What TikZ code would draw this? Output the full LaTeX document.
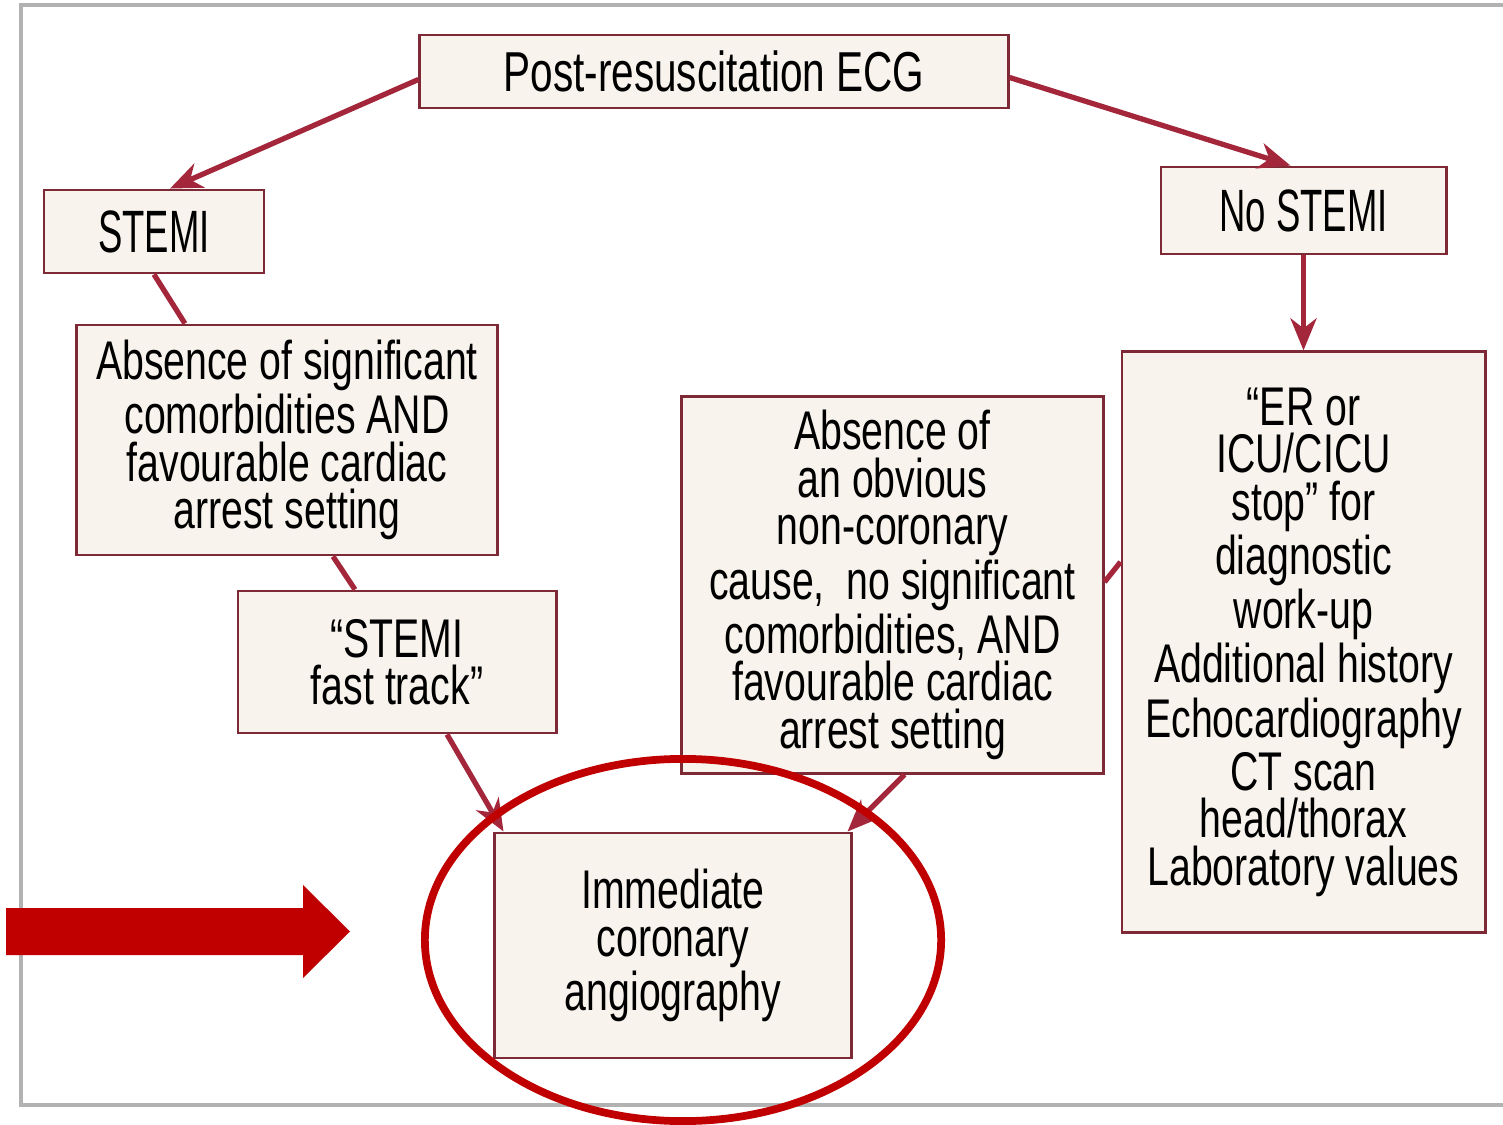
\documentclass[tikz,border=0pt]{standalone}
\usepackage{fontspec}
\setmainfont{Liberation Sans}[FakeStretch=0.72]
\newfontfamily\narrowfont{Liberation Sans}[FakeStretch=0.61]
\usetikzlibrary{arrows.meta}

\definecolor{boxline}{HTML}{7E2A36}
\definecolor{boxfill}{HTML}{F8F3EC}
\definecolor{linkred}{HTML}{A3263A}
\definecolor{markred}{HTML}{C00000}

\begin{document}
\begin{tikzpicture}[
    x=0.01cm, y=-0.01cm,
    box/.style={draw=boxline, fill=boxfill, line width=0.8pt, inner sep=0pt,
        align=center, font=\fontsize{15.5}{13.5}\selectfont},
    headbox/.style={box, font=\narrowfont\fontsize{17}{15}\selectfont},
    link/.style={draw=linkred, line width=1.5pt},
    linkarrow/.style={link, -{Stealth[length=3.2mm, width=2.6mm, inset=1mm]}},
    frame/.style={draw=gray!60, line width=1.2pt}
]
\useasboundingbox (0,0) rectangle (1503,1125);

% Outer frame
\draw[frame] (1503,5) -- (21,5) -- (21,1105) -- (1503,1105);

% Boxes
\node[box, minimum width=5.88cm, minimum height=0.73cm, font=\fontsize{16}{15}\selectfont]
    (ecg) at (714,71.5) {Post-resuscitation ECG};
\node[headbox, minimum width=2.20cm, minimum height=0.83cm]
    (stemi) at (154,231.5) {STEMI};
\node[headbox, minimum width=2.85cm, minimum height=0.87cm]
    (nostemi) at (1303.5,210.5) {No STEMI};
\node[box, minimum width=4.20cm, minimum height=2.30cm]
    (absence) at (287,440) {Absence of significant\\comorbidities AND\\favourable cardiac\\arrest setting};
\node[box, minimum width=3.18cm, minimum height=1.42cm]
    (fasttrack) at (397,662) {“STEMI\\fast track”};
\node[box, minimum width=4.21cm, minimum height=3.76cm]
    (noncoronary) at (892.5,585) {Absence of\\an obvious\\non-coronary\\cause,\ \ no significant\\comorbidities, AND\\favourable cardiac\\arrest setting};
\node[box, minimum width=3.63cm, minimum height=5.80cm]
    (workup) at (1303.5,642) {“ER or\\ICU/CICU\\stop” for\\diagnostic\\work-up\\Additional history\\Echocardiography\\CT scan\\head/thorax\\Laboratory values};
\node[box, minimum width=3.56cm, minimum height=2.25cm]
    (angio) at (673,945.5) {Immediate\\coronary\\angiography};

% Connectors
\draw[linkarrow] ([yshift=-0.08cm]ecg.west) -- ([xshift=0.16cm]stemi.north);
\draw[linkarrow] ([yshift=-0.06cm]ecg.east) -- ([xshift=-0.13cm]nostemi.north);
\draw[link] (stemi.south) -- ([xshift=-1.02cm]absence.north);
\draw[link] ([xshift=0.46cm]absence.south) -- ([xshift=-0.42cm]fasttrack.north);
\draw[linkarrow] ([xshift=0.5cm]fasttrack.south) -- ([xshift=0.1cm]angio.north west);
\draw[linkarrow] ([xshift=0.12cm]noncoronary.south) -- ([xshift=-0.05cm]angio.north east);
\draw[linkarrow] (nostemi.south) -- (workup.north);
\draw[link] ([yshift=0.03cm]noncoronary.east) -- ([yshift=0.8cm]workup.west);

% Highlight
\draw[markred, line width=2.2pt] (683,940) ellipse [x radius=2.58cm, y radius=1.81cm];
\fill[markred] (6,908) -- (303,908) -- (303,885) -- (350,931.5)
    -- (303,978) -- (303,955) -- (6,955) -- cycle;

\end{tikzpicture}
\end{document}
